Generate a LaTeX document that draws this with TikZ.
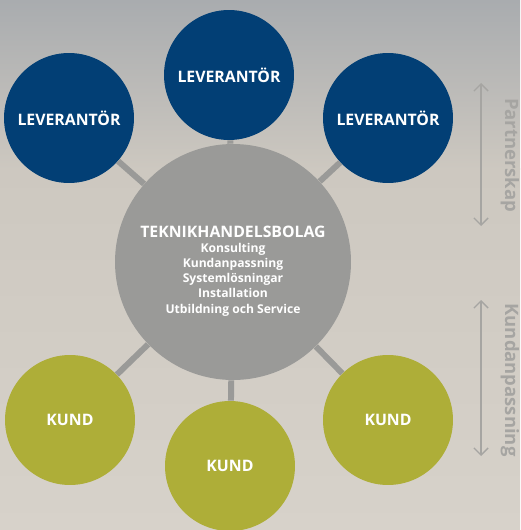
\documentclass[tikz,border=0pt]{standalone}
\usepackage{fontspec}
\setmainfont{Open Sans}
\usetikzlibrary{arrows.meta}
\definecolor{levblue}{HTML}{023F75}
\definecolor{kundgreen}{HTML}{AEAE38}
\definecolor{hubgray}{HTML}{9A9A98}
\definecolor{sidegray}{HTML}{A6A5A2}
\definecolor{bgtop}{HTML}{A9ACAF}
\definecolor{bgmid}{HTML}{CDC8C0}
\definecolor{bgbottom}{HTML}{D7D2CA}
\begin{document}
\begin{tikzpicture}[x=0.02cm, y=-0.02cm, small node/.style={circle,minimum size=2.6cm,inner sep=0pt,text=white,font=\bfseries\fontsize{9}{10}\selectfont}]
% background
\shade[top color=bgtop, bottom color=bgmid] (0,0) rectangle (520,170);
\shade[top color=bgmid, bottom color=bgbottom] (0,169) rectangle (520,530);
\useasboundingbox (0,0) rectangle (520,530);
\node[circle,fill=hubgray,minimum size=4.72cm,inner sep=0pt] (hub) at (233,262) {};
\node[text=white,align=center,font=\fontsize{6.9}{8.6}\selectfont\bfseries] (hubtext) at (233,271) {{\fontsize{9}{11}\selectfont TEKNIKHANDELSBOLAG}\\Konsulting\\Kundanpassning\\Systemlösningar\\Installation\\Utbildning och Service};
\node[small node,fill=levblue] (lev1) at (69,118) {LEVERANTÖR};
\node[small node,fill=levblue] (lev2) at (229,75) {LEVERANTÖR};
\node[small node,fill=levblue] (lev3) at (388,118) {LEVERANTÖR};
\node[small node,fill=kundgreen] (kund1) at (70,420) {KUND};
\node[small node,fill=kundgreen] (kund2) at (230,466) {KUND};
\node[small node,fill=kundgreen] (kund3) at (388,420) {KUND};
\begin{scope}[every edge/.style={draw=hubgray,line width=3.4pt}]
\draw (hub) edge (lev1) (hub) edge (lev2) (hub) edge (lev3);
\draw (hub) edge (kund1) (hub) edge (kund2) (hub) edge (kund3);
\end{scope}
\begin{scope}[every edge/.style={draw=sidegray,line width=0.8pt,{Straight Barb[length=4pt,width=8pt]}-{Straight Barb[length=4pt,width=8pt]}}]
\coordinate (p1) at (481,83);
\coordinate (p2) at (481,226);
\coordinate (k1) at (481,300);
\coordinate (k2) at (481,456);
\draw (p1) edge (p2) (k1) edge (k2);
\end{scope}
\begin{scope}[every node/.style={text=sidegray,rotate=-90,font=\fontsize{10.5}{12}\selectfont\fontseries{sb}\selectfont}]
\node (partner) at (510,155) {Partnerskap};
\node (kundanp) at (510,380) {Kundanpassning};
\end{scope}
\end{tikzpicture}
\end{document}
